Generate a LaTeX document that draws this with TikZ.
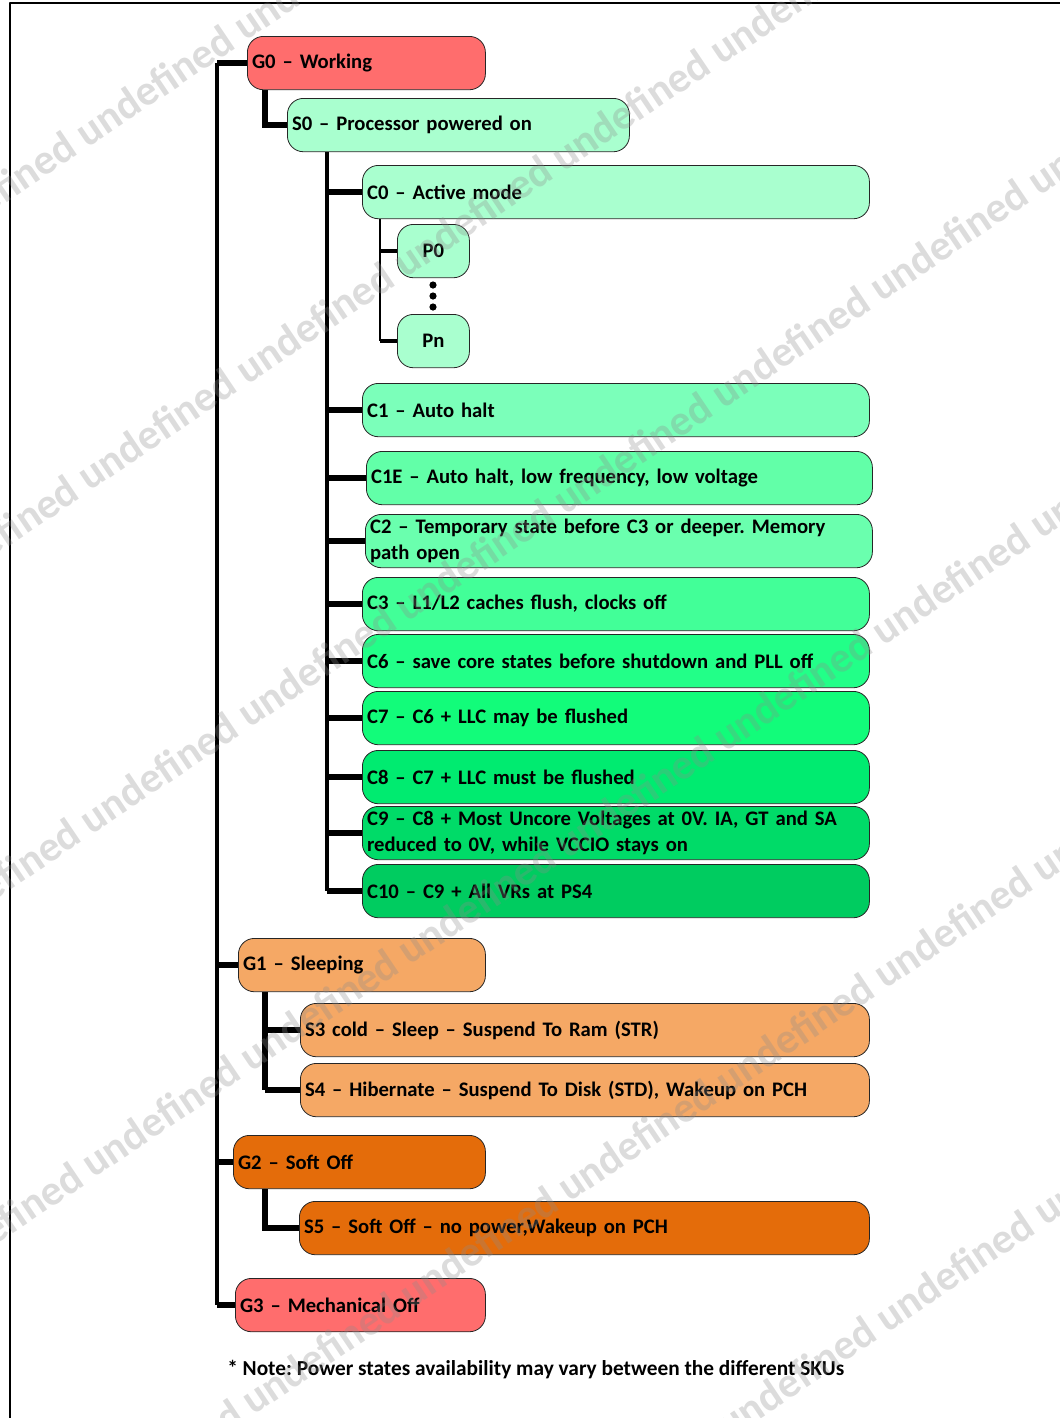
\documentclass[tikz,border=0pt]{standalone}
\usepackage{fontspec}
\setmainfont{Carlito}
\usetikzlibrary{backgrounds}
\definecolor{gred}{HTML}{FF6D6D}
\definecolor{mint}{HTML}{A9FFCF}
\definecolor{cone}{HTML}{7BFFBA}
\definecolor{conee}{HTML}{62FFA8}
\definecolor{ctwo}{HTML}{6AFFAE}
\definecolor{cthree}{HTML}{42FF98}
\definecolor{csix}{HTML}{22FF88}
\definecolor{cseven}{HTML}{12FC7A}
\definecolor{ceight}{HTML}{00EB70}
\definecolor{cnine}{HTML}{00DB68}
\definecolor{cten}{HTML}{00CC60}
\definecolor{sleep}{HTML}{F5A865}
\definecolor{softoff}{HTML}{E46C0A}
\frenchspacing

\begin{document}
\begin{tikzpicture}[line cap=round,line join=round,x=0.75pt,y=-0.75pt,
  box/.style={draw=black!85, line width=0.6pt, rounded corners=12pt, anchor=north west,
    align=left, inner xsep=3.5pt, inner ysep=1pt, minimum height=40pt,
    font=\fontsize{15.5}{19.5}\selectfont\bfseries},
  spine/.style={line width=3pt},
  stub/.style={line width=4.5pt},
  twig/.style={line width=2.2pt},
  twigstub/.style={line width=3pt},
  wmark/.style={rotate=34, anchor=base west, inner sep=0pt, text=black!45, opacity=0.3,
    font=\fontsize{32}{32}\selectfont\bfseries}]
\useasboundingbox (0,0) rectangle (1060,1418);
\draw [line width=2pt] (10,1418) -- (10,3) -- (1060,3);

% global states
\node[box, fill=gred, text width=171.5pt] (g0) at (247,36) {G0 – Working};
\node[box, fill=mint, text width=249.5pt] (s0) at (287,98) {S0 – Processor powered on};
\node[box, fill=mint, text width=373.25pt] (c0) at (362,165) {C0 – Active mode};
\node[box, fill=mint, text width=47pt, align=center] (p0) at (397,224) {P0};
\node[box, fill=mint, text width=47pt, align=center] (pn) at (397,314) {Pn};
\node[box, fill=cone, text width=373.25pt] (c1) at (362,383) {C1 – Auto halt};
\node[box, fill=conee, text width=372.5pt] (c1e) at (366,451) {C1E – Auto halt, low frequency, low voltage};
\node[box, fill=ctwo, text width=373.25pt] (c2) at (365,514) {C2 – Temporary state before C3 or deeper. Memory\\path open};
\node[box, fill=cthree, text width=373.25pt] (c3) at (362,577) {C3 – L1/L2 caches flush, clocks off};
\node[box, fill=csix, text width=373.25pt] (c6) at (362,634) {C6 – save core states before shutdown and PLL off};
\node[box, fill=cseven, text width=373.25pt] (c7) at (362,691) {C7 – C6 + LLC may be flushed};
\node[box, fill=ceight, text width=373.25pt] (c8) at (362,750) {C8 – C7 + LLC must be flushed};
\node[box, fill=cnine, text width=373.25pt] (c9) at (362,806) {C9 – C8 + Most Uncore Voltages at 0V. IA, GT and SA\\reduced to 0V, while VCCIO stays on};
\node[box, fill=cten, text width=373.25pt] (c10) at (362,864) {C10 – C9 + All VRs at PS4};

\node[box, fill=sleep, text width=178.25pt] (g1) at (238,938) {G1 – Sleeping};
\node[box, fill=sleep, text width=419.75pt] (s3) at (300,1003) {S3 cold – Sleep – Suspend To Ram (STR)};
\node[box, fill=sleep, text width=419.75pt] (s4) at (300,1063) {S4 – Hibernate – Suspend To Disk (STD), Wakeup on PCH};
\node[box, fill=softoff, text width=182pt] (g2) at (233,1135) {G2 – Soft Off};
\node[box, fill=softoff, text width=420.5pt] (s5) at (299,1201) {S5 – Soft Off – no power,Wakeup on PCH};
\node[box, fill=gred, text width=180.5pt] (g3) at (235,1278) {G3 – Mechanical Off};

\node[anchor=base west, inner sep=0pt, font=\fontsize{16}{19.5}\selectfont\bfseries] (note) at (227,1375)
  {* Note: Power states availability may vary between the different SKUs};

\coordinate (gx) at (217,0);
\coordinate (sx) at (265,0);
\coordinate (cx) at (327,0);
\coordinate (px) at (380,0);

\begin{scope}[on background layer]
\draw[spine] (g0.west -| gx) -- (g3.west -| gx);
\foreach \n in {g0,g1,g2,g3} \draw[stub] (\n.west -| gx) -- (\n.west);
\draw[stub] (g0.south -| sx) -- (s0.west -| sx) -- (s0.west);
\draw[spine] (s0.south -| cx) -- (c10.west -| cx);
\foreach \n in {c0,c1,c1e,c2,c3,c6,c7,c8,c9,c10} \draw[stub] (\n.west -| cx) -- (\n.west);
\draw[twig] (c0.south -| px) -- (pn.west -| px);
\foreach \n in {p0,pn} \draw[twigstub] (\n.west -| px) -- (\n.west);
\draw[stub] (g1.south -| sx) -- (s4.west -| sx);
\foreach \n in {s3,s4} \draw[stub] (\n.west -| sx) -- (\n.west);
\draw[stub] (g2.south -| sx) -- (s5.west -| sx) -- (s5.west);
\end{scope}
\foreach \y in {285,296,307} \fill (433,\y) circle (2.7pt);

% watermark
\begin{scope}
\clip (0,0) rectangle (1060,1418);
\foreach \k in {-2,...,3}
  \node[wmark] (wm\k) at ({-382+160*\k},{1155+237*\k})
    {undefined undefined undefined undefined undefined undefined undefined undefined undefined undefined};
\end{scope}
\end{tikzpicture}
\end{document}
